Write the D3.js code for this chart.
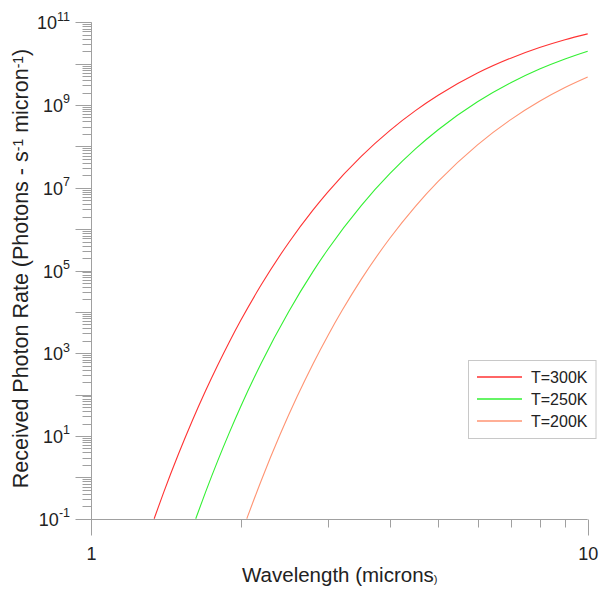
<!DOCTYPE html>
<html><head><meta charset="utf-8">
<script src="https://cdn.jsdelivr.net/npm/d3@7"></script>
<style>
body{margin:0;background:#fff;}
svg{display:block;font-family:"Liberation Sans",Arial,sans-serif;}
</style>
</head><body>
<svg id="chart" width="602" height="591"></svg>
<script>
// ---- data ----
const seriesNames = ["T=300K", "T=250K", "T=200K"];
const seriesColors = ["#ff3333", "#33f033", "#ff9473"];

const wl300 = [1.34, 1.4, 1.5, 1.6, 1.7, 1.8, 1.9, 2.0, 2.2, 2.5, 2.8, 3.0, 3.5, 4.0, 4.5, 5, 6, 7, 8, 9, 10];
const val300 = [0.1, 0.427, 3.65, 23.7, 122, 521, 1905, 6080, 4.44e4, 4.70e5, 2.93e6, 8.0e6, 5.77e7, 2.45e8, 7.33e8, 1.72e9, 5.93e9, 1.36e10, 2.46e10, 3.80e10, 5.26e10];

const wl250 = [1.625, 1.7, 1.8, 1.9, 2.0, 2.2, 2.5, 2.8, 3.0, 3.5, 4.0, 4.5, 5, 6, 7, 8, 9, 10];
const val250 = [0.1, 0.433, 2.53, 12.2, 50.2, 568, 1.01e4, 9.53e4, 3.27e5, 3.72e6, 2.22e7, 8.71e7, 2.53e8, 1.20e9, 3.46e9, 7.41e9, 1.30e10, 2.00e10];

const wl200 = [2.059, 2.2, 2.4, 2.6, 2.8, 3.0, 3.2, 3.5, 4.0, 4.5, 5, 6, 7, 8, 9, 10];
const val200 = [0.1, 0.818, 10.5, 89.7, 560, 2700, 1.06e4, 6.10e4, 6.10e5, 3.56e6, 1.42e7, 1.09e8, 4.44e8, 1.23e9, 2.64e9, 4.74e9];

const xTickLabels = ["1", "10"];
const yLabelExponents = [-1, 1, 3, 5, 7, 9, 11];
const xTitle = "Wavelength (microns";
const xTitleTail = ")";

// ---- layout ----
const svg = d3.select("#chart");
const x = d3.scaleLog().domain([1, 10]).range([91, 587.7]);
const y = d3.scaleLog().domain([0.1, 1e11]).range([518.7, 22.3]);
const axisColor = "#a0a0a0";

// y ticks: all decades + minors
const yTicks = [];
for (let e = -1; e <= 11; e++) {
  yTicks.push(Math.pow(10, e));
  if (e < 11) for (let k = 2; k <= 9; k++) yTicks.push(k * Math.pow(10, e));
}
const isMajor = v => Math.abs(Math.log10(v) - Math.round(Math.log10(v))) < 1e-9;

const gy = svg.append("g").attr("transform", "translate(91,0)")
  .call(d3.axisLeft(y).tickValues(yTicks).tickSize(9).tickSizeOuter(0).tickFormat(""));
gy.select(".domain").attr("stroke", axisColor).attr("d", `M0.5,${y(1e11)}V535`);
gy.selectAll(".tick line").attr("stroke", axisColor)
  .attr("x2", d => isMajor(d) ? -16 : -9);
gy.selectAll(".tick").attr("transform", d => `translate(0.5,${Math.round(y(d)) + 0.5})`);

// x ticks
const xTicks = d3.range(1, 11);
const gx = svg.append("g").attr("transform", `translate(0,${Math.round(y(0.1)) + 0.5})`)
  .call(d3.axisBottom(x).tickValues(xTicks).tickSize(8).tickSizeOuter(0).tickFormat(""));
gx.select(".domain").attr("stroke", axisColor).attr("d", `M${x(1)},0H${x(10)}`);
gx.selectAll(".tick line").attr("stroke", axisColor)
  .attr("y2", d => (d === 1 || d === 10) ? 16 : 8);
gx.selectAll(".tick").attr("transform", d => `translate(${Math.round(x(d)) + 0.5},0)`);

// y tick labels
const yl = svg.append("g").attr("font-size", 18).attr("fill", "#222");
yLabelExponents.forEach(e => {
  const t = yl.append("text").attr("x", 70).attr("y", y(Math.pow(10, e)) + 7)
    .attr("text-anchor", "end");
  t.append("tspan").text("10");
  t.append("tspan").attr("font-size", 12.5).attr("dy", -8.6).text(String(e));
});

// x tick labels
xTickLabels.forEach(s => {
  svg.append("text").attr("x", x(+s) + 0.5).attr("y", 560).attr("text-anchor", "middle")
    .attr("font-size", 18).attr("fill", "#222").text(s);
});

// axis titles
const xt = svg.append("text").attr("x", 242).attr("y", 581.7).attr("font-size", 20.5).attr("fill", "#222");
xt.append("tspan").text(xTitle);
xt.append("tspan").attr("font-size", 11).attr("dy", 1.5).text(xTitleTail);

const ytl = svg.append("text").attr("transform", "translate(28,268.5) rotate(-90)")
  .attr("text-anchor", "middle").attr("font-size", 21.5).attr("fill", "#222");
ytl.append("tspan").text("Received Photon Rate (Photons - s");
ytl.append("tspan").attr("font-size", 14).attr("dy", -5).text("-1");
ytl.append("tspan").attr("dy", 5).text(" micron");
ytl.append("tspan").attr("font-size", 14).attr("dy", -5).text("-1");
ytl.append("tspan").attr("dy", 5).text(")");

// curves
const series = [
  wl300.map((w, i) => [w, val300[i]]),
  wl250.map((w, i) => [w, val250[i]]),
  wl200.map((w, i) => [w, val200[i]])
];
const line = d3.line().x(d => x(d[0])).y(d => y(d[1])).curve(d3.curveMonotoneX);
svg.append("g").selectAll("path").data(series).join("path")
  .attr("d", line).attr("fill", "none")
  .attr("stroke", (d, i) => seriesColors[i]).attr("stroke-width", 1.1);

// legend
const lg = svg.append("g");
lg.append("rect").attr("x", 468.5).attr("y", 360.5).attr("width", 127.5).attr("height", 78)
  .attr("fill", "#fff").attr("stroke", "#c8c8c8");
lg.selectAll("path.key").data(seriesNames).join("path").attr("class", "key")
  .attr("d", (n, i) => `M477,${377 + i * 22}H522`)
  .attr("fill", "none")
  .style("stroke", (n, i) => seriesColors[i]).style("stroke-width", "1.6px");
lg.selectAll("text.key").data(seriesNames).join("text").attr("class", "key")
  .attr("x", 531).attr("y", (n, i) => 383 + i * 22)
  .attr("font-size", 16).attr("fill", "#222").text(n => n);
</script>
</body></html>
